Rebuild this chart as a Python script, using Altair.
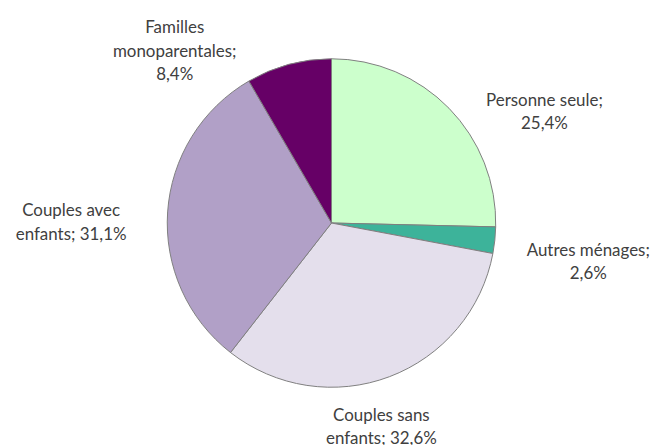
import altair as alt
import pandas as pd

categories = ["Personne seule", "Autres ménages", "Couples sans enfants",
              "Couples avec enfants", "Familles monoparentales"]
values = [25.4, 2.6, 32.6, 31.1, 8.4]
labels = ["Personne seule;\n25,4%", "Autres ménages;\n2,6%", "Couples sans\nenfants; 32,6%",
          "Couples avec\nenfants; 31,1%", "Familles\nmonoparentales;\n8,4%"]
colors = ["#CCFFCC", "#3DB39A", "#E4DFEC", "#B1A0C7", "#660066"]
label_offsets = [(78, 10), (69, 8), (-17, 16), (-72, 1), (-108, -12)]

df = pd.DataFrame({"cat": categories, "val": values, "label": labels,
                   "idx": list(range(len(categories)))})

base = alt.Chart(df).encode(
    theta=alt.Theta("val:Q", stack=True),
    order=alt.Order("idx:Q"),
)

pie = base.mark_arc(outerRadius=165, stroke="#7f7f7f", strokeWidth=1).encode(
    color=alt.Color("cat:N", scale=alt.Scale(domain=categories, range=colors), legend=None)
)

layers = [pie]
for i, (cat, (dx, dy)) in enumerate(zip(categories, label_offsets)):
    t = base.transform_calculate(
        shown=f"datum.idx == {i} ? datum.label : ''"
    ).mark_text(radius=190, dx=dx, dy=dy, font="Lato", fontSize=17, color="#404040",
                lineBreak="\n", align="center", baseline="middle", lineHeight=23.5).encode(
        text="shown:N"
    )
    layers.append(t)

chart = alt.layer(*layers).properties(
    width=650, height=430,
    padding={"top": 0, "left": 0, "right": 0, "bottom": 7},
    autosize=alt.AutoSizeParams(type="none")
).configure_view(stroke=None)

chart.save("out.html", embed_options={"renderer": "svg", "actions": False})
